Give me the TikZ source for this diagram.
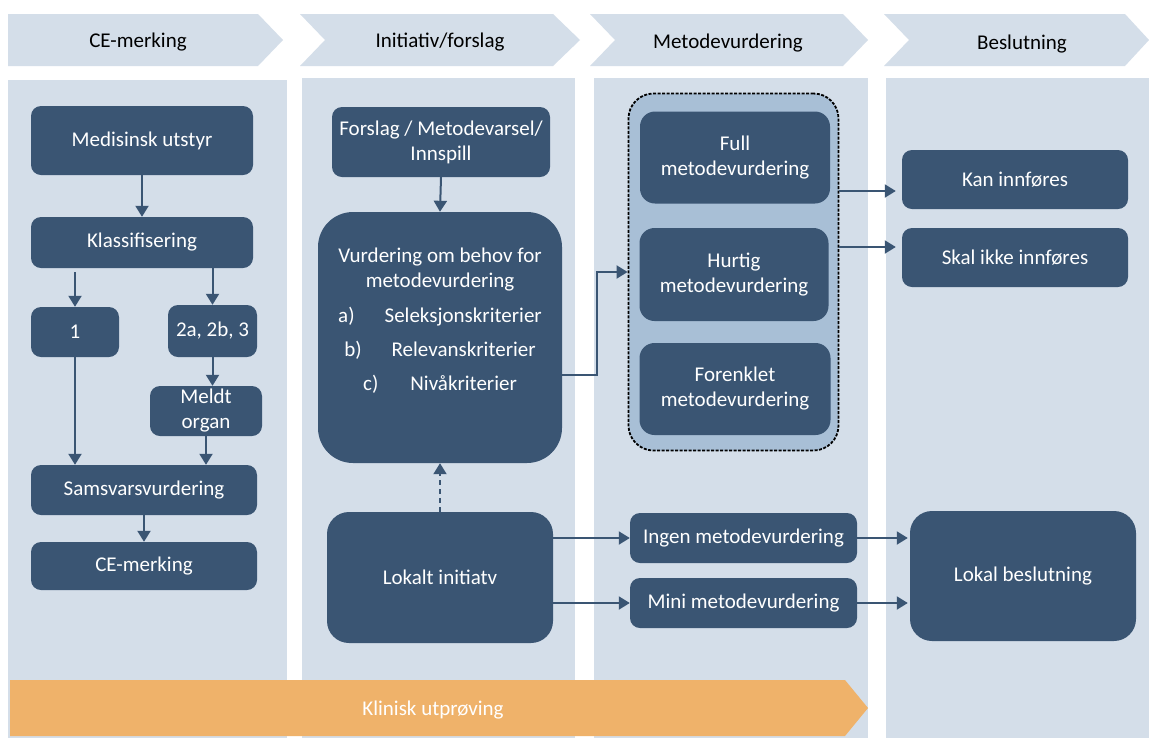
\documentclass[tikz,border=0pt]{standalone}
\usepackage{fontspec}
\setmainfont{Carlito}
\usetikzlibrary{arrows.meta,calc}
\definecolor{panel}{RGB}{212,222,233}
\definecolor{boxc}{RGB}{58,85,115}
\definecolor{grpc}{RGB}{168,191,214}
\definecolor{orng}{RGB}{239,178,106}
\begin{document}
\begin{tikzpicture}[x=1pt,y=-1pt,
  box/.style={fill=boxc, rounded corners=10pt, text=white, align=center,
    font=\fontsize{21}{25}\selectfont, inner sep=0pt},
  bigbox/.style={box, rounded corners=22pt},
  arr/.style={draw=boxc, line width=2pt, -{Triangle[width=13pt,length=11pt]}},
  hdr/.style={font=\fontsize{21}{24}\selectfont, text=black},
  chev/.style={fill=panel, draw=none}]
\useasboundingbox (0,0) rectangle (1149,740);
\fill[white] (0,0) rectangle (1149,740);

% header chevrons
\fill[chev] (8,14) -- (258,14) -- (283,40) -- (258,66) -- (8,66) -- cycle;
\fill[chev] (300,14) -- (553,14) -- (580,40) -- (553,66) -- (300,66) -- (325,40) -- cycle;
\fill[chev] (590,14) -- (843,14) -- (868,40) -- (843,66) -- (590,66) -- (615,40) -- cycle;
\fill[chev] (884,14) -- (1125,14) -- (1149,40) -- (1125,66) -- (884,66) -- (909,40) -- cycle;
\node[hdr] (h1) at (138,42) {CE-merking};
\node[hdr] (h2) at (440,42) {Initiativ/forslag};
\node[hdr] (h3) at (728,43) {Metodevurdering};
\node[hdr] (h4) at (1022,44) {Beslutning};

% column panels
\fill[panel] (8,80) rectangle (287,738);
\fill[panel] (302,78) rectangle (575,738);
\fill[panel] (594,78) rectangle (868,738);
\fill[panel] (886,78) rectangle (1149,738);

% orange arrow
\fill[orng] (10,680) -- (845,680) -- (868,708) -- (845,736) -- (10,736) -- cycle;
\node[font=\fontsize{21}{24}\selectfont, text=white] (klin) at (433,710) {Klinisk utprøving};

% column 1
\node[box, minimum width=222pt, minimum height=69pt] (med) at (142,140.5) {Medisinsk utstyr};
\node[box, minimum width=222pt, minimum height=51pt] (kla) at (142,242.5) {Klassifisering};
\node[box, minimum width=88pt, minimum height=50pt] (b1) at (75,332) {1};
\node[box, minimum width=89pt, minimum height=52pt] (b2) at (212.5,331) {2a, 2b, 3};
\node[box, minimum width=112pt, minimum height=50pt] (meldt) at (206,411) {Meldt\\organ};
\node[box, minimum width=226pt, minimum height=50pt] (sams) at (144,490) {Samsvarsvurdering};
\node[box, minimum width=226pt, minimum height=48pt] (ce) at (144,566) {CE-merking};

\draw[arr] (med.south) -- (kla.north);
\draw[arr, shorten <=4pt] (b1.north |- kla.south) -- (b1.north);
\draw[arr] (b2.north |- kla.south) -- (b2.north);
\draw[arr] (b2.south) -- (b2.south |- meldt.north);
\draw[arr] (b1.south) -- (b1.south |- sams.north);
\draw[arr] (meldt.south) -- (meldt.south |- sams.north);
\draw[arr] (sams.south) -- (ce.north);

% column 2
\node[box, minimum width=218pt, minimum height=70pt] (fors) at (441,142) {Forslag / Metodevarsel/\\Innspill};
\node[bigbox, rounded corners=35pt, minimum width=244pt, minimum height=251pt] (vur) at (440,337.5) {};
\node[text=white, align=center, font=\fontsize{21}{25}\selectfont, inner sep=0pt] (vurtxt) at (440,321)
  {Vurdering om behov for\\metodevurdering\\[10pt]
   a)\hspace{30pt}Seleksjonskriterier\\[9pt]
   b)\hspace{30pt}Relevanskriterier\\[9pt]
   c)\hspace{32pt}Nivåkriterier};
\node[bigbox, minimum width=226pt, minimum height=131pt] (lok) at (440,577.5) {Lokalt initiatv};

\draw[arr] (fors.south) -- (vur.north);
\draw[arr, dashed, dash pattern=on 5pt off 4pt] (lok.north) -- (vur.south);

% column 3
\node[fill=grpc, draw=black, line width=1.8pt, dash pattern=on 3pt off 1.5pt, rounded corners=25pt,
  minimum width=210pt, minimum height=357pt, inner sep=0pt] (grp) at (733.5,272) {};
\node[box, rounded corners=15pt, minimum width=190pt, minimum height=92pt] (full) at (735,157.5) {Full\\metodevurdering};
\node[box, rounded corners=15pt, minimum width=189pt, minimum height=93pt] (hurt) at (734,274.5) {Hurtig\\metodevurdering};
\node[box, rounded corners=15pt, minimum width=191pt, minimum height=92pt] (fore) at (735,389) {Forenklet\\metodevurdering};
\node[box, minimum width=227pt, minimum height=50pt] (ingen) at (743.5,538) {Ingen metodevurdering};
\node[box, minimum width=227pt, minimum height=50pt] (mini) at (743.5,603) {Mini metodevurdering};

\draw[arr] ([yshift=-37pt]vur.east) -- ++(35,0) |- (grp.west);

% column 4
\node[box, minimum width=226pt, minimum height=59pt] (kan) at (1015,179.5) {Kan innføres};
\node[box, minimum width=226pt, minimum height=59pt] (skal) at (1015,257.5) {Skal ikke innføres};
\node[bigbox, minimum width=226pt, minimum height=130pt] (lb) at (1023,576) {Lokal beslutning};

\coordinate (g1) at ([yshift=81pt]grp.east);
\coordinate (g2) at ([yshift=25pt]grp.east);
\draw[arr, shorten >=6pt] (g1) -- (g1 -| kan.west);
\draw[arr, shorten >=6pt] (g2) -- (g2 -| skal.west);
\draw[arr] (lok.east |- ingen.west) -- (ingen.west);
\draw[arr] (lok.east |- mini.west) -- (mini.west);
\draw[arr, shorten >=2pt] (ingen.east) -- (ingen.east -| lb.west);
\draw[arr, shorten >=2pt] (mini.east) -- (mini.east -| lb.west);
\end{tikzpicture}
\end{document}
